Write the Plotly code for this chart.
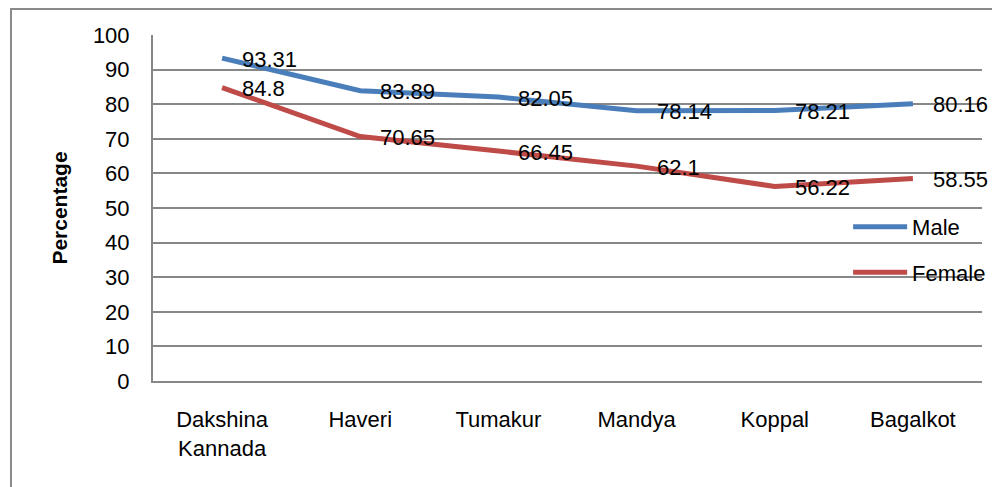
import plotly.graph_objects as go

districts = ["Dakshina<br>Kannada", "Haveri", "Tumakur", "Mandya", "Koppal", "Bagalkot"]
male = [93.31, 83.89, 82.05, 78.14, 78.21, 80.16]
female = [84.8, 70.65, 66.45, 62.1, 56.22, 58.55]
y_ticks = list(range(0, 101, 10))

FONT = "Liberation Sans"
GRID = "#878787"
BLUE = "#4a7ebb"
RED = "#be4b48"

fig = go.Figure()
fig.add_trace(go.Scatter(x=districts, y=male, name="Male", mode="lines",
                         line=dict(color=BLUE, width=5), legendgroup="m"))
fig.add_trace(go.Scatter(x=districts, y=female, name="Female", mode="lines",
                         line=dict(color=RED, width=5), legendgroup="f"))

annotations = []
for series in (male, female):
    for cat, v in zip(districts, series):
        annotations.append(dict(x=cat, y=v, xref="x", yref="y", text=f"{v:g}",
                                showarrow=False, xanchor="left", yanchor="middle",
                                xshift=18, yshift=-1,
                                font=dict(family=FONT, size=22, color="black")))

fig.update_layout(
    width=1000, height=487,
    margin=dict(l=145, r=26, t=27, b=114, autoexpand=False),
    paper_bgcolor="white", plot_bgcolor="white",
    font=dict(family=FONT, size=22, color="black"),
    showlegend=True,
    legend=dict(x=0.8385, y=0.379, xanchor="left", yanchor="middle",
                bgcolor="rgba(0,0,0,0)", tracegroupgap=14, itemwidth=54,
                font=dict(family=FONT, size=22, color="black")),
    annotations=annotations,
    shapes=[dict(type="rect", xref="paper", yref="paper",
                 x0=-0.1713, x1=1.05, y0=-0.4, y1=1.0751,
                 line=dict(color="#8a8a8a", width=2), layer="below")],
)
fig.update_xaxes(type="category", range=[-0.5, 5.5], showgrid=False,
                 showline=True, linecolor=GRID, linewidth=2,
                 ticks="", ticklabelstandoff=18, automargin=False,
                 tickfont=dict(family=FONT, size=22, color="black"))
fig.update_yaxes(range=[0, 100], tickvals=y_ticks, showgrid=True,
                 gridcolor=GRID, gridwidth=1.5, zeroline=False,
                 showline=True, linecolor=GRID, linewidth=2,
                 ticks="", ticklabelstandoff=17, automargin=False,
                 tickfont=dict(family=FONT, size=22, color="black"),
                 title=dict(text="<b>Percentage</b>", standoff=20,
                            font=dict(family=FONT, size=21, color="black")))

fig.write_html("out.html")
